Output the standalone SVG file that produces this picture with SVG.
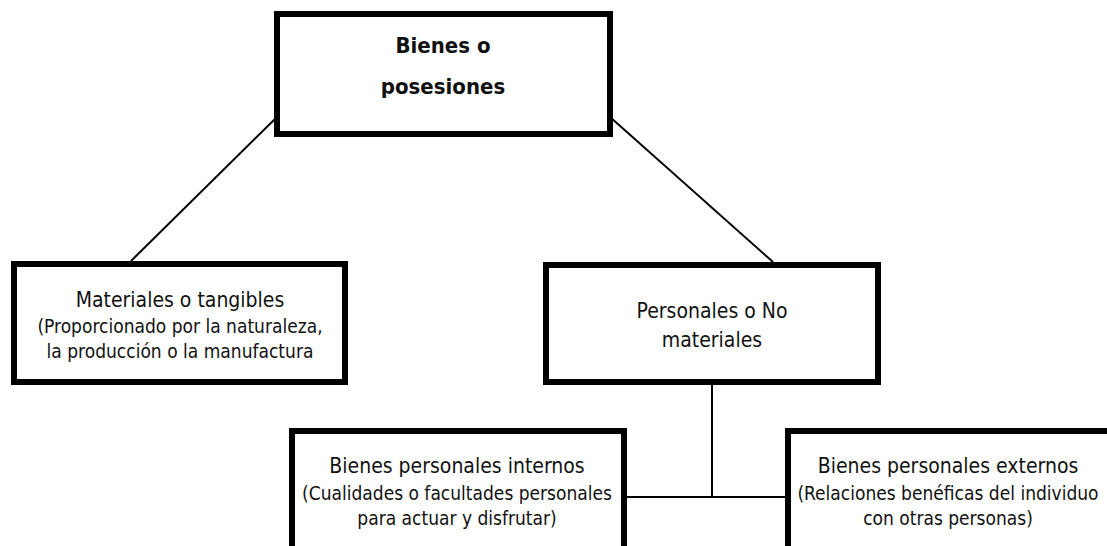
<svg xmlns="http://www.w3.org/2000/svg" width="1107" height="546" viewBox="0 0 1107 546">
<style>
.box{fill:#fff;stroke:#000;stroke-width:6}
.con{stroke:#000;stroke-width:2;fill:none}
text{font-family:"DejaVu Sans Condensed","DejaVu Sans","Liberation Sans",sans-serif;font-stretch:condensed;fill:#111;text-anchor:middle}
.t{font-size:22px;font-weight:bold}
.h{font-size:21px}
.s{font-size:19px}
</style>
<rect width="1107" height="546" fill="#fff"/>
<g id="connectors">
<line class="con" x1="277" y1="117" x2="131" y2="261"/>
<line class="con" x1="610" y1="117" x2="773" y2="262"/>
<line class="con" x1="712" y1="385" x2="712" y2="497"/>
<line class="con" x1="627" y1="497" x2="785" y2="497"/>
</g>
<g id="bienes">
<rect class="box" x="277" y="14" width="333" height="120"/>
<text class="t" x="443" y="53">Bienes o</text>
<text class="t" x="443" y="94">posesiones</text>
</g>
<g id="materiales">
<rect class="box" x="14" y="264" width="331" height="118"/>
<text class="h" x="180" y="307">Materiales o tangibles</text>
<text class="s" x="180" y="333">(Proporcionado por la naturaleza,</text>
<text class="s" x="180" y="358">la producción o la manufactura</text>
</g>
<g id="personales">
<rect class="box" x="546" y="265" width="332" height="117"/>
<text class="h" x="712" y="318">Personales o No</text>
<text class="h" x="712" y="347">materiales</text>
</g>
<g id="internos">
<rect class="box" x="292" y="431" width="332" height="130"/>
<text class="h" x="457" y="473">Bienes personales internos</text>
<text class="s" x="457" y="500">(Cualidades o facultades personales</text>
<text class="s" x="457" y="525">para actuar y disfrutar)</text>
</g>
<g id="externos">
<rect class="box" x="788" y="431" width="332" height="130"/>
<text class="h" x="948" y="473">Bienes personales externos</text>
<text class="s" x="948" y="500">(Relaciones benéficas del individuo</text>
<text class="s" x="948" y="525">con otras personas)</text>
</g>
</svg>
